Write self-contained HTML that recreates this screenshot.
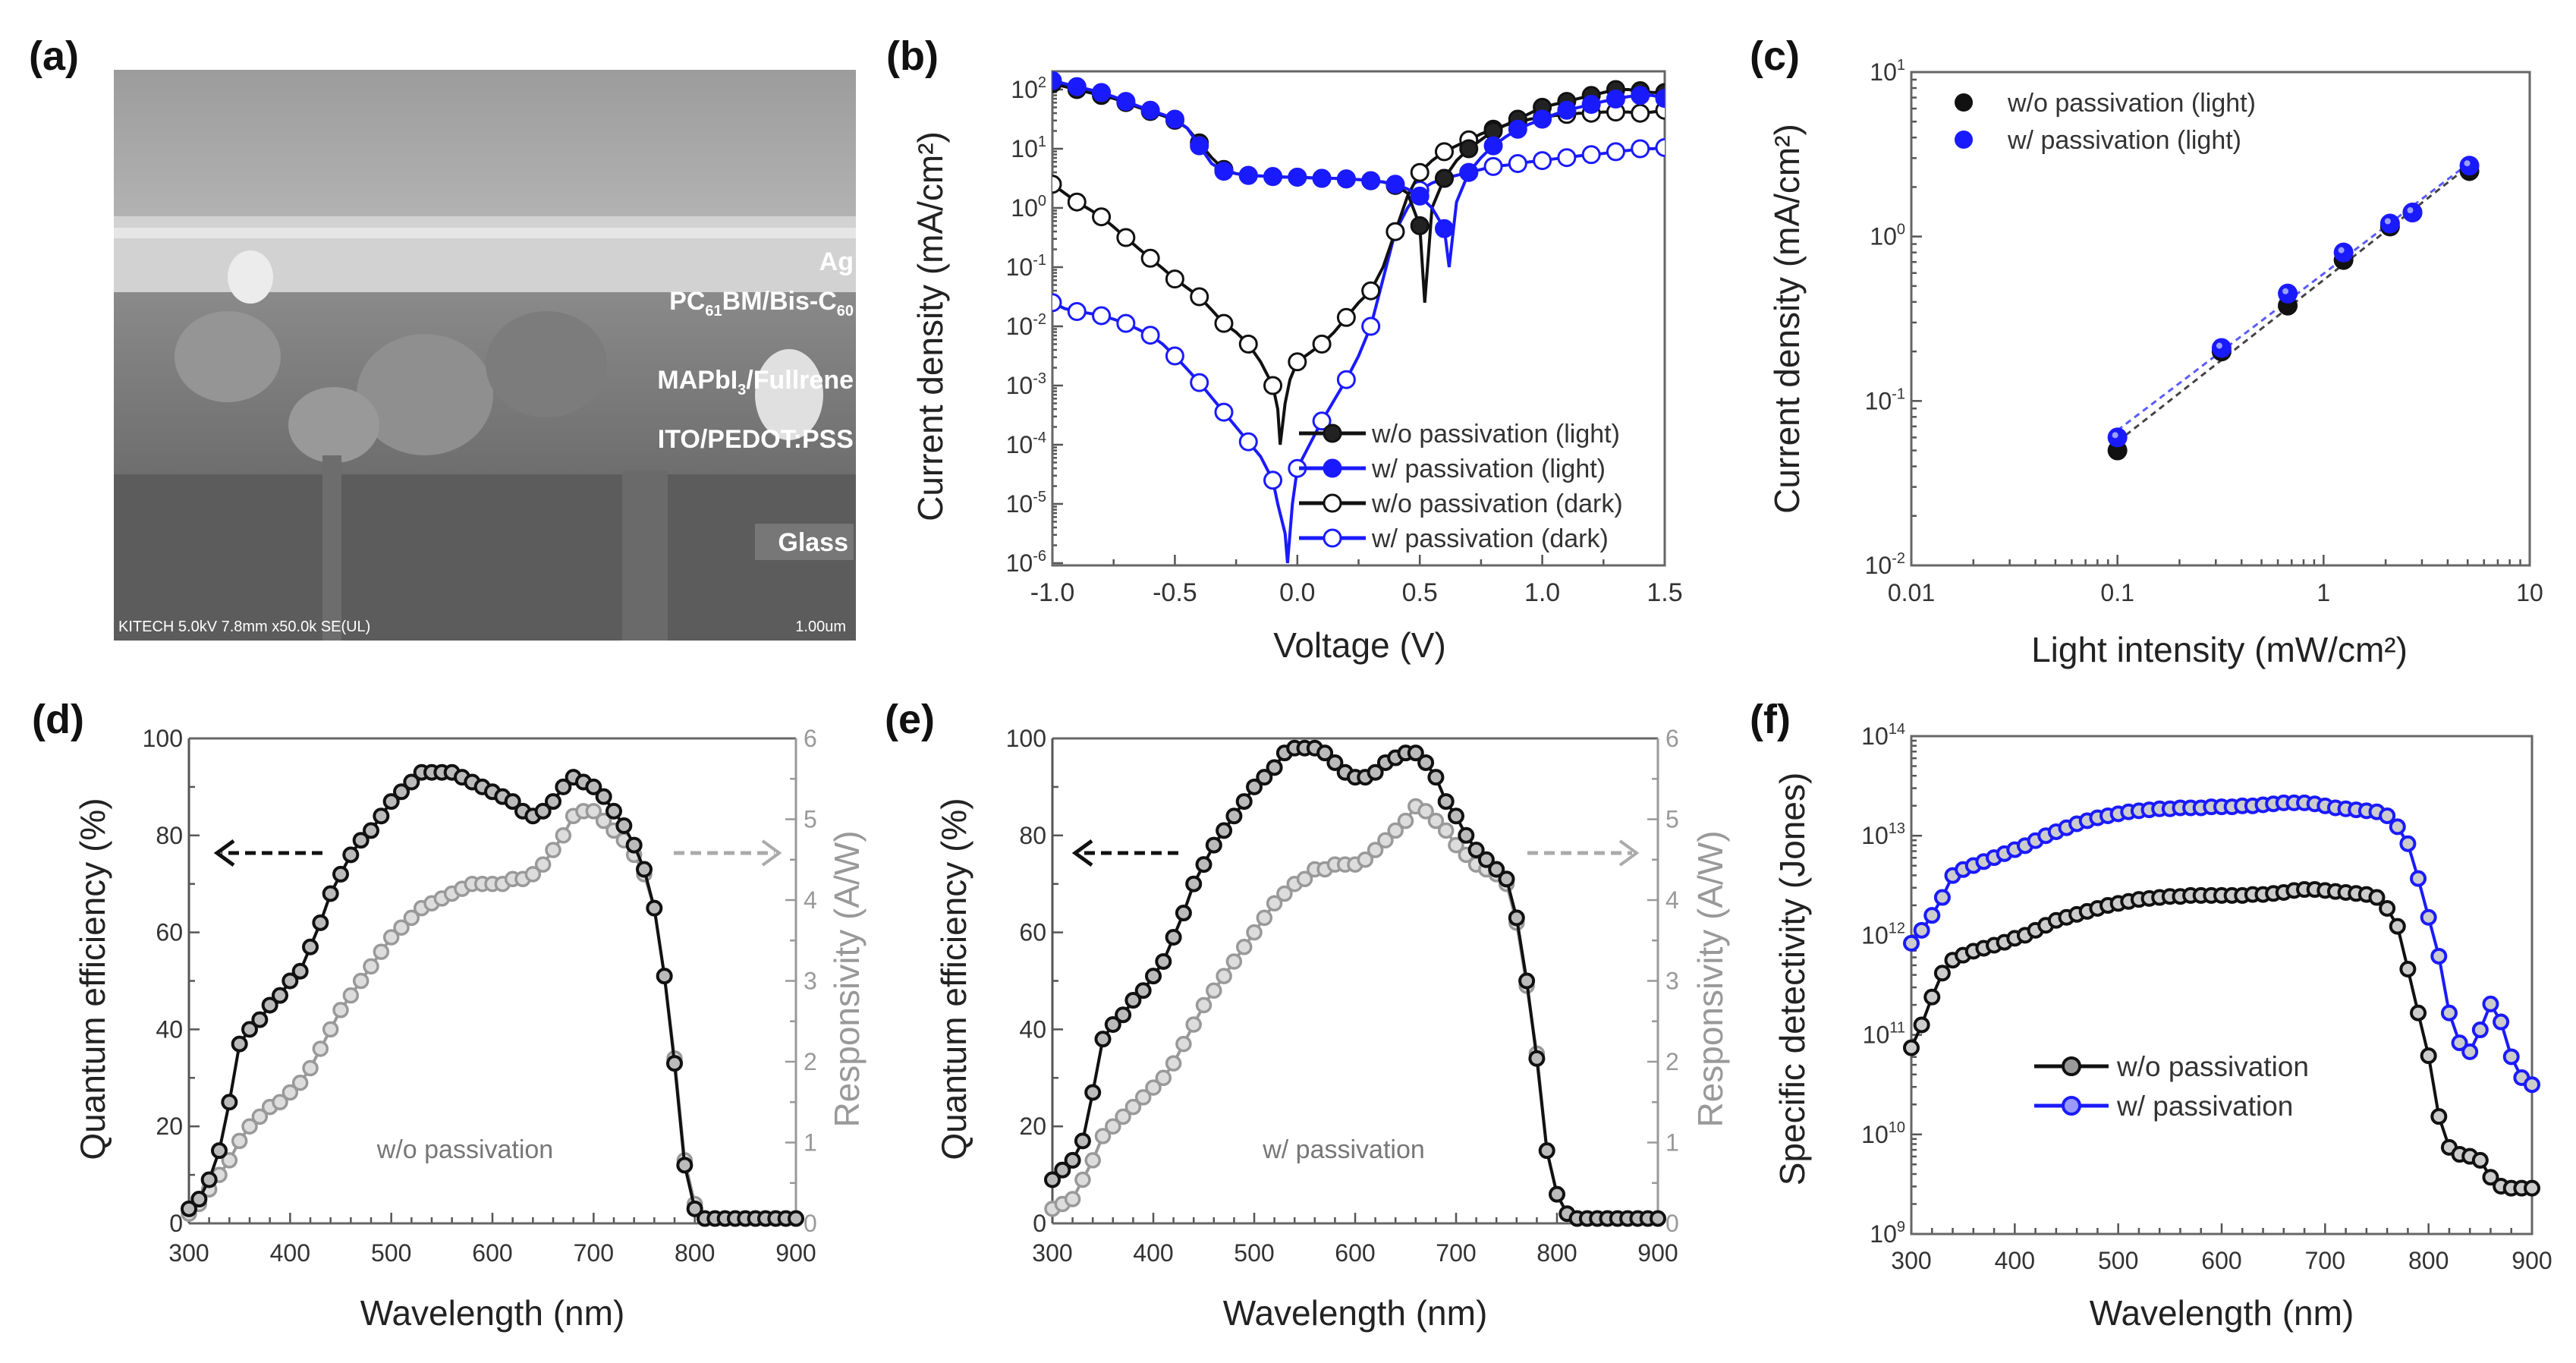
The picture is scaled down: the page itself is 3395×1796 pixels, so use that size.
<!DOCTYPE html>
<html><head><meta charset="utf-8">
<style>
html,body{margin:0;padding:0;background:#fff;}
svg{display:block;font-family:"Liberation Sans",Arial,sans-serif;}
</style></head>
<body>
<svg id="fig" xmlns="http://www.w3.org/2000/svg" width="3395" height="1796" viewBox="0 0 3395 1796">
<defs>
<linearGradient id="gTop" x1="0" y1="0" x2="0" y2="1"><stop offset="0" stop-color="#9c9c9c"/><stop offset="1" stop-color="#b4b4b4"/></linearGradient>
<linearGradient id="gGrain" x1="0" y1="0" x2="0" y2="1"><stop offset="0" stop-color="#8a8a8a"/><stop offset="1" stop-color="#6e6e6e"/></linearGradient>
<clipPath id="semClip"><rect x="150" y="92" width="978" height="752"/></clipPath>
</defs>
<g id="panelA">
 <g clip-path="url(#semClip)">
  <rect x="150" y="92" width="978" height="752" fill="#5c5c5c"/>
  <rect x="150" y="92" width="978" height="210" fill="url(#gTop)"/>
  <rect x="150" y="285" width="978" height="110" fill="#d2d2d2"/>
  <rect x="150" y="300" width="978" height="14" fill="#eeeeee" opacity="0.7"/>
  <rect x="150" y="385" width="978" height="240" fill="url(#gGrain)"/>
  <ellipse cx="330" cy="365" rx="30" ry="35" fill="#ececec"/>
  <ellipse cx="300" cy="470" rx="70" ry="60" fill="#959595"/>
  <ellipse cx="560" cy="520" rx="90" ry="80" fill="#8f8f8f"/>
  <ellipse cx="720" cy="480" rx="80" ry="70" fill="#7c7c7c"/>
  <ellipse cx="440" cy="560" rx="60" ry="50" fill="#999"/>
  <ellipse cx="1040" cy="520" rx="45" ry="60" fill="#e0e0e0"/>
  <rect x="820" y="620" width="60" height="224" fill="#6a6a6a"/>
  <rect x="425" y="600" width="25" height="244" fill="#6d6d6d"/>
  <text x="1125" y="356" text-anchor="end" font-size="34" font-weight="bold" fill="#fff">Ag</text>
  <text x="1125" y="408" text-anchor="end" font-size="34" font-weight="bold" fill="#fff">PC<tspan font-size="20" dy="8">61</tspan><tspan dy="-8">BM/Bis-C</tspan><tspan font-size="20" dy="8">60</tspan></text>
  <text x="1125" y="512" text-anchor="end" font-size="34" font-weight="bold" fill="#fff">MAPbI<tspan font-size="20" dy="8">3</tspan><tspan dy="-8">/Fullrene</tspan></text>
  <text x="1125" y="590" text-anchor="end" font-size="34" font-weight="bold" fill="#fff">ITO/PEDOT:PSS</text>
  <rect x="995" y="690" width="130" height="48" fill="#777"/>
  <text x="1118" y="726" text-anchor="end" font-size="34" font-weight="bold" fill="#fff">Glass</text>
  <text x="156" y="832" font-size="20" fill="#fff">KITECH 5.0kV 7.8mm x50.0k SE(UL)</text>
  <text x="1115" y="832" text-anchor="end" font-size="20" fill="#fff">1.00um</text>
 </g>
</g>
</svg>
<script>
const NS='http://www.w3.org/2000/svg';
const svg=document.getElementById('fig');

// ---------- Panel (b) data: voltage (V) and log10 current density (mA/cm2)
const bBlackLightV=[-1,-0.95,-0.9,-0.85,-0.8,-0.75,-0.7,-0.65,-0.6,-0.55,-0.5,-0.45,-0.4,-0.35,-0.3,-0.25,-0.2,-0.15,-0.1,-0.05,0,0.05,0.1,0.15,0.2,0.25,0.3,0.35,0.4,0.45,0.5,0.52,0.55,0.6,0.65,0.7,0.75,0.8,0.85,0.9,0.95,1.0,1.05,1.1,1.15,1.2,1.25,1.3,1.35,1.4,1.45,1.5];
const bBlackLightJ=[2.1,2.05,2.0,1.95,1.9,1.85,1.78,1.7,1.63,1.56,1.48,1.35,1.1,0.85,0.65,0.58,0.55,0.54,0.53,0.52,0.52,0.51,0.5,0.5,0.49,0.48,0.46,0.44,0.38,0.25,-0.3,-1.6,0.0,0.5,0.8,1.0,1.15,1.3,1.4,1.5,1.6,1.7,1.75,1.8,1.85,1.9,1.95,2.0,2.0,1.98,1.95,1.95];
const bBlueLightV=[-1,-0.95,-0.9,-0.85,-0.8,-0.75,-0.7,-0.65,-0.6,-0.55,-0.5,-0.45,-0.4,-0.35,-0.3,-0.25,-0.2,-0.15,-0.1,-0.05,0,0.05,0.1,0.15,0.2,0.25,0.3,0.35,0.4,0.45,0.5,0.55,0.6,0.62,0.65,0.7,0.75,0.8,0.85,0.9,0.95,1.0,1.05,1.1,1.15,1.2,1.25,1.3,1.35,1.4,1.45,1.5];
const bBlueLightJ=[2.15,2.1,2.05,2.0,1.95,1.88,1.8,1.72,1.65,1.58,1.5,1.35,1.05,0.75,0.62,0.58,0.55,0.54,0.53,0.52,0.52,0.51,0.5,0.5,0.49,0.48,0.46,0.44,0.4,0.32,0.2,0.0,-0.35,-1.0,0.1,0.6,0.85,1.05,1.2,1.33,1.42,1.5,1.58,1.65,1.7,1.75,1.8,1.84,1.88,1.9,1.9,1.85];
const bBlackDarkV=[-1,-0.95,-0.9,-0.85,-0.8,-0.75,-0.7,-0.65,-0.6,-0.55,-0.5,-0.45,-0.4,-0.35,-0.3,-0.25,-0.2,-0.15,-0.1,-0.08,-0.07,-0.05,-0.03,0,0.05,0.1,0.15,0.2,0.25,0.3,0.35,0.4,0.45,0.5,0.55,0.6,0.65,0.7,0.75,0.8,0.85,0.9,0.95,1.0,1.05,1.1,1.15,1.2,1.25,1.3,1.35,1.4,1.45,1.5];
const bBlackDarkJ=[0.4,0.25,0.1,-0.02,-0.15,-0.32,-0.5,-0.68,-0.85,-1.02,-1.2,-1.35,-1.5,-1.72,-1.95,-2.1,-2.3,-2.6,-3.0,-3.4,-4.0,-3.3,-2.9,-2.6,-2.45,-2.3,-2.1,-1.85,-1.6,-1.4,-1.0,-0.4,0.2,0.6,0.8,0.95,1.05,1.15,1.25,1.33,1.4,1.45,1.5,1.53,1.56,1.58,1.6,1.6,1.62,1.62,1.62,1.6,1.62,1.65];
const bBlueDarkV=[-1,-0.95,-0.9,-0.85,-0.8,-0.75,-0.7,-0.65,-0.6,-0.55,-0.5,-0.45,-0.4,-0.35,-0.3,-0.25,-0.2,-0.15,-0.1,-0.08,-0.05,-0.04,-0.02,0,0.05,0.1,0.15,0.2,0.25,0.3,0.35,0.4,0.45,0.5,0.55,0.6,0.65,0.7,0.75,0.8,0.85,0.9,0.95,1.0,1.05,1.1,1.15,1.2,1.25,1.3,1.35,1.4,1.45,1.5];
const bBlueDarkJ=[-1.6,-1.7,-1.75,-1.78,-1.82,-1.88,-1.95,-2.05,-2.15,-2.3,-2.5,-2.72,-2.95,-3.2,-3.45,-3.7,-3.95,-4.2,-4.6,-5.0,-5.5,-6.0,-5.0,-4.4,-4.0,-3.6,-3.25,-2.9,-2.5,-2.0,-1.2,-0.4,0.0,0.3,0.42,0.5,0.55,0.6,0.65,0.7,0.72,0.75,0.78,0.8,0.83,0.85,0.88,0.9,0.92,0.95,0.97,1.0,1.0,1.02];
const bXTicks=[-1.0,-0.5,0.0,0.5,1.0,1.5];
const bXTickLabels=['-1.0','-0.5','0.0','0.5','1.0','1.5'];
const bYExp=[2,1,0,-1,-2,-3,-4,-5,-6];

// ---------- Panel (c) data
const cIntensity=[0.1,0.32,0.67,1.25,2.1,2.7,5.1];
const cBlack=[0.05,0.2,0.38,0.72,1.15,1.4,2.5];
const cBlue=[0.06,0.21,0.45,0.8,1.2,1.4,2.7];
const cXTickLabels=['0.01','0.1','1','10'];
const cYExp=[1,0,-1,-2];

// ---------- Panels (d),(e)
const wl=[300,310,320,330,340,350,360,370,380,390,400,410,420,430,440,450,460,470,480,490,500,510,520,530,540,550,560,570,580,590,600,610,620,630,640,650,660,670,680,690,700,710,720,730,740,750,760,770,780,790,800,810,820,830,840,850,860,870,880,890,900];
const dQE=[3,5,9,15,25,37,40,42,45,47,50,52,57,62,68,72,76,79,81,84,87,89,91,93,93,93,93,92,91,90,89,88,87,85,84,85,87,90,92,91,90,88,85,82,78,73,65,51,33,12,3,1,1,1,1,1,1,1,1,1,1];
const dResp=[0.12,0.24,0.42,0.6,0.78,1.02,1.2,1.32,1.44,1.5,1.62,1.74,1.92,2.16,2.4,2.64,2.82,3.0,3.18,3.36,3.54,3.66,3.78,3.9,3.96,4.02,4.08,4.14,4.2,4.2,4.2,4.2,4.26,4.26,4.32,4.44,4.62,4.8,5.04,5.1,5.1,4.98,4.86,4.74,4.56,4.32,3.9,3.06,2.04,0.78,0.24,0.06,0.06,0.06,0.06,0.06,0.06,0.06,0.06,0.06,0.06];
const eQE=[9,11,13,17,27,38,41,43,46,48,51,54,59,64,70,74,78,81,84,87,90,92,94,97,98,98,98,97,95,93,92,92,93,95,96,97,97,95,92,87,84,80,77,75,73,71,63,50,34,15,6,2,1,1,1,1,1,1,1,1,1];
const eResp=[0.18,0.24,0.3,0.54,0.78,1.08,1.2,1.32,1.44,1.56,1.68,1.8,1.98,2.22,2.46,2.7,2.88,3.06,3.24,3.42,3.6,3.78,3.96,4.08,4.2,4.26,4.38,4.38,4.44,4.44,4.44,4.5,4.62,4.74,4.86,4.98,5.16,5.1,4.98,4.86,4.68,4.56,4.44,4.38,4.32,4.2,3.72,2.94,2.1,0.9,0.36,0.12,0.06,0.06,0.06,0.06,0.06,0.06,0.06,0.06,0.06];
const wlTicks=[300,400,500,600,700,800,900];
const qeTicks=[0,20,40,60,80,100];
const respTicks=[0,1,2,3,4,5,6];

// ---------- Panel (f)
const fLogBlack=[10.87,11.1,11.38,11.62,11.75,11.8,11.84,11.87,11.9,11.93,11.97,12.0,12.05,12.1,12.15,12.18,12.21,12.24,12.27,12.3,12.32,12.34,12.36,12.37,12.38,12.39,12.39,12.4,12.4,12.4,12.4,12.4,12.4,12.41,12.41,12.42,12.43,12.45,12.46,12.46,12.45,12.44,12.43,12.42,12.41,12.38,12.27,12.09,11.66,11.22,10.79,10.18,9.87,9.8,9.78,9.74,9.57,9.48,9.46,9.46,9.46];
const fLogBlue=[11.92,12.05,12.2,12.38,12.6,12.66,12.7,12.74,12.78,12.82,12.86,12.9,12.95,13.0,13.04,13.08,13.12,13.15,13.18,13.2,13.22,13.24,13.25,13.26,13.27,13.27,13.28,13.28,13.28,13.29,13.29,13.29,13.3,13.3,13.31,13.32,13.33,13.33,13.33,13.32,13.3,13.28,13.27,13.26,13.25,13.24,13.2,13.09,12.92,12.57,12.18,11.79,11.22,10.92,10.83,11.05,11.31,11.13,10.78,10.57,10.5];
const fYExp=[14,13,12,11,10,9];

// ---------- helpers
function mk(tag,attrs,name,parent){
  const e=document.createElementNS(NS,tag);
  for(const k in attrs) e.setAttribute(k,attrs[k]);
  
  
  (parent||svg).appendChild(e);
  return e;
}
function lin(d0,d1,r0,r1){return v=>r0+(v-d0)*(r1-r0)/(d1-d0);}
function txt(x,y,s,size,name,opt){
  opt=opt||{};
  const t=mk('text',{x:x,y:y,'font-size':size,fill:opt.fill||'#222','text-anchor':opt.anchor||'middle','font-weight':opt.weight||'normal'},name,opt.parent);
  if(opt.rot!==undefined) t.setAttribute('transform','rotate('+opt.rot+' '+x+' '+y+')');
  t.textContent=s;
  return t;
}
function powLabel(x,y,exp,name,g,anchor){
  const t=mk('text',{x:x,y:y,'font-size':32,fill:'#333','text-anchor':anchor||'end'},name,g);
  t.appendChild(document.createTextNode('10'));
  const s=document.createElementNS(NS,'tspan');
  s.setAttribute('font-size','20');s.setAttribute('dy','-14');
  s.textContent=String(exp);
  t.appendChild(s);
  return t;
}
function frame(g,x0,y0,x1,y1,name){
  mk('rect',{x:x0,y:y0,width:x1-x0,height:y1-y0,fill:'none',stroke:'#666','stroke-width':3},name,g);
}
function tick(g,x1,y1,x2,y2,name,color){
  mk('line',{x1:x1,y1:y1,x2:x2,y2:y2,stroke:color||'#555','stroke-width':2.5},name,g);
}
function pathOf(xs,ys,fx,fy){
  let d='';
  for(let i=0;i<xs.length;i++){d+=(i?'L':'M')+fx(xs[i]).toFixed(1)+' '+fy(ys[i]).toFixed(1);}
  return d;
}
function panelLabel(x,y,s,name){txt(x,y,s,54,name,{weight:'bold',anchor:'start',fill:'#111'});}

panelLabel(38,92,'(a)','panel-label-a');
panelLabel(1168,92,'(b)','panel-label-b');
panelLabel(2306,92,'(c)','panel-label-c');
panelLabel(42,966,'(d)','panel-label-d');
panelLabel(1166,966,'(e)','panel-label-e');
panelLabel(2306,966,'(f)','panel-label-f');

// ================= Panel (b)
(function(){
  const g=mk('g',{},'iv-chart');
  const X0=1387,X1=2194,Y0=94,Y1=745;
  const xb=lin(-1,1.5,X0,X1);
  const yb=v=>742-(v+6)*78;
  const clip=mk('clipPath',{id:'clipB'},'clip-b',g);
  mk('rect',{x:X0,y:Y0,width:X1-X0,height:Y1-Y0},'clip-rect-b',clip);
  for(let i=0;i<bXTicks.length;i++){
    const x=xb(bXTicks[i]);
    tick(g,x,Y1,x,Y1-14,'x-tick-b');
    txt(x,792,bXTickLabels[i],34,'x-tick-label-b',{fill:'#333'});
    if(i<bXTicks.length-1){const xm=xb(bXTicks[i]+0.25);tick(g,xm,Y1,xm,Y1-8,'x-minor-tick-b');}
  }
  for(const e of bYExp){
    const y=yb(e);
    tick(g,X0,y,X0+14,y,'y-tick-b');
    powLabel(X0-8,y+11,e,'y-tick-label-b',g);
    for(let m=2;m<10;m++){const ym=yb(e+Math.log10(m));if(ym>Y0&&ym<Y1)tick(g,X0,ym,X0+6,ym,'y-minor-tick-b');}
  }
  frame(g,X0,Y0,X1,Y1,'plot-frame-b');
  const series=[
    {v:bBlueDarkV,j:bBlueDarkJ,c:'#1a1aff',fill:'#fff',n:'w-passivation-dark'},
    {v:bBlackDarkV,j:bBlackDarkJ,c:'#111',fill:'#fff',n:'wo-passivation-dark'},
    {v:bBlackLightV,j:bBlackLightJ,c:'#111',fill:'#222',n:'wo-passivation-light'},
    {v:bBlueLightV,j:bBlueLightJ,c:'#1a1aff',fill:'#1a1aff',n:'w-passivation-light'}];
  const sg=mk('g',{'clip-path':'url(#clipB)'},'series-group-b',g);
  for(const s of series){
    mk('path',{d:pathOf(s.v,s.j,xb,yb),fill:'none',stroke:s.c,'stroke-width':4},s.n+'-line',sg);
    for(let i=0;i<s.v.length;i++){
      const k=Math.round(s.v[i]*100);
      if(k%10!==0) continue;
      mk('circle',{cx:xb(s.v[i]),cy:yb(s.j[i]),r:11,fill:s.fill,stroke:s.c,'stroke-width':3},s.n+'-marker',sg);
    }
  }
  const leg=[['w/o passivation (light)','#111','#222'],['w/ passivation (light)','#1a1aff','#1a1aff'],['w/o passivation (dark)','#111','#fff'],['w/ passivation (dark)','#1a1aff','#fff']];
  const lg=mk('g',{},'legend-b',g);
  leg.forEach((l,i)=>{
    const y=571+i*46;
    mk('line',{x1:1712,y1:y,x2:1800,y2:y,stroke:l[1],'stroke-width':5},'legend-line-b',lg);
    mk('circle',{cx:1756,cy:y,r:11,fill:l[2],stroke:l[1],'stroke-width':3},'legend-marker-b',lg);
    txt(1808,y+12,l[0],34,'legend-entry-b',{anchor:'start',fill:'#333',parent:lg});
  });
  txt(1242,430,'Current density (mA/cm²)',46,'y-axis-title-b',{rot:-90,fill:'#222'});
  txt(1792,866,'Voltage (V)',46,'x-axis-title-b',{fill:'#222'});
})();

// ================= Panel (c)
(function(){
  const g=mk('g',{},'intensity-chart');
  const X0=2519,X1=3334,Y0=95,Y1=745;
  const xc=v=>X0+(Math.log10(v)+2)*(X1-X0)/3;
  const yc=v=>Y1-(Math.log10(v)+2)*(Y1-Y0)/3;
  for(let d=0;d<4;d++){
    const v=Math.pow(10,d-2);
    const x=xc(v);
    tick(g,x,Y1,x,Y1-14,'x-tick-c');
    txt(x,792,cXTickLabels[d],32,'x-tick-label-c',{fill:'#333'});
    if(d<3)for(let m=2;m<10;m++){const xm=xc(v*m);tick(g,xm,Y1,xm,Y1-8,'x-minor-tick-c');}
  }
  for(const e of cYExp){
    const y=yc(Math.pow(10,e));
    tick(g,X0,y,X0+14,y,'y-tick-c');
    powLabel(X0-8,y+11,e,'y-tick-label-c',g);
    if(e>-2)for(let m=2;m<10;m++){const ym=yc(Math.pow(10,e-1)*m);tick(g,X0,ym,X0+7,ym,'y-minor-tick-c');}
  }
  frame(g,X0,Y0,X1,Y1,'plot-frame-c');
  function fit(ys,color,name){
    let sx=0,sy=0,sxx=0,sxy=0,n=cIntensity.length;
    for(let i=0;i<n;i++){const a=Math.log10(cIntensity[i]),b=Math.log10(ys[i]);sx+=a;sy+=b;sxx+=a*a;sxy+=a*b;}
    const k=(n*sxy-sx*sy)/(n*sxx-sx*sx),b0=(sy-k*sx)/n;
    const xa=cIntensity[0],xz=cIntensity[n-1];
    mk('line',{x1:xc(xa),y1:yc(Math.pow(10,b0+k*Math.log10(xa))),x2:xc(xz),y2:yc(Math.pow(10,b0+k*Math.log10(xz))),stroke:color,'stroke-width':3,'stroke-dasharray':'8 6'},name,g);
  }
  fit(cBlack,'#444','fit-line-wo-passivation');
  fit(cBlue,'#5a5aff','fit-line-w-passivation');
  for(let i=0;i<cIntensity.length;i++){
    mk('circle',{cx:xc(cIntensity[i]),cy:yc(cBlack[i]),r:13,fill:'#111'},'point-wo-passivation',g);
  }
  for(let i=0;i<cIntensity.length;i++){
    mk('circle',{cx:xc(cIntensity[i]),cy:yc(cBlue[i]),r:13,fill:'#1a1aff'},'point-w-passivation',g);
    mk('circle',{cx:xc(cIntensity[i])-3,cy:yc(cBlue[i])-3,r:4,fill:'#9aa0ff'},'point-highlight',g);
  }
  mk('circle',{cx:2588,cy:135,r:12,fill:'#111'},'legend-marker-c-wo',g);
  txt(2646,147,'w/o passivation (light)',34,'legend-entry-c-wo',{anchor:'start',fill:'#333'});
  mk('circle',{cx:2588,cy:184,r:12,fill:'#1a1aff'},'legend-marker-c-w',g);
  txt(2646,196,'w/ passivation (light)',34,'legend-entry-c-w',{anchor:'start',fill:'#333'});
  txt(2371,420,'Current density (mA/cm²)',46,'y-axis-title-c',{rot:-90,fill:'#222'});
  txt(2925,872,'Light intensity (mW/cm²)',46,'x-axis-title-c',{fill:'#222'});
})();

// ================= Panels (d),(e)
function qePanel(X0,X1,qe,resp,note,noteX,arrows,id,titleX,rTitleX){
  const g=mk('g',{},'qe-chart-'+id);
  const Y0=973,Y1=1612;
  const x=lin(300,900,X0,X1), y=lin(0,100,Y1,Y0), yr=lin(0,6,Y1,Y0);
  for(const t of wlTicks){
    tick(g,x(t),Y1,x(t),Y1-14,'x-tick-'+id);
    txt(x(t),1662,String(t),32,'x-tick-label-'+id,{fill:'#333'});
  }
  for(let t=320;t<900;t+=20){if(t%100) tick(g,x(t),Y1,x(t),Y1-8,'x-minor-tick-'+id);}
  for(const t of qeTicks){
    tick(g,X0,y(t),X0+14,y(t),'y-tick-'+id);
    txt(X0-8,y(t)+11,String(t),32,'y-tick-label-'+id,{anchor:'end',fill:'#333'});
    if(t<100) tick(g,X0,y(t+10),X0+8,y(t+10),'y-minor-tick-'+id);
  }
  for(const t of respTicks){
    tick(g,X1,yr(t),X1-14,yr(t),'y2-tick-'+id,'#999');
    txt(X1+10,yr(t)+11,String(t),32,'y2-tick-label-'+id,{anchor:'start',fill:'#999'});
    if(t<6) tick(g,X1,yr(t+0.5),X1-8,yr(t+0.5),'y2-minor-tick-'+id,'#999');
  }
  mk('line',{x1:X0,y1:Y0,x2:X1,y2:Y0,stroke:'#666','stroke-width':3},'frame-top-'+id,g);
  mk('line',{x1:X0,y1:Y1,x2:X1,y2:Y1,stroke:'#666','stroke-width':3},'frame-bottom-'+id,g);
  mk('line',{x1:X0,y1:Y0,x2:X0,y2:Y1,stroke:'#555','stroke-width':3},'frame-left-'+id,g);
  mk('line',{x1:X1,y1:Y0,x2:X1,y2:Y1,stroke:'#999','stroke-width':3},'frame-right-'+id,g);
  mk('path',{d:pathOf(wl,resp,x,yr),fill:'none',stroke:'#999','stroke-width':4},'responsivity-line-'+id,g);
  for(let i=0;i<wl.length;i++) mk('circle',{cx:x(wl[i]),cy:yr(resp[i]),r:9,fill:'#ddd',stroke:'#999','stroke-width':3.5},'responsivity-marker-'+id,g);
  mk('path',{d:pathOf(wl,qe,x,y),fill:'none',stroke:'#111','stroke-width':4},'qe-line-'+id,g);
  for(let i=0;i<wl.length;i++) mk('circle',{cx:x(wl[i]),cy:y(qe[i]),r:9,fill:'#bbb',stroke:'#111','stroke-width':4},'qe-marker-'+id,g);
  mk('line',{x1:arrows[0],y1:1124,x2:arrows[1]+6,y2:1124,stroke:'#111','stroke-width':5,'stroke-dasharray':'14 8'},'left-axis-arrow-'+id,g);
  mk('path',{d:'M'+(arrows[1]+22)+' 1108 L'+arrows[1]+' 1124 L'+(arrows[1]+22)+' 1140',fill:'none',stroke:'#111','stroke-width':5},'left-arrow-head-'+id,g);
  mk('line',{x1:arrows[2],y1:1124,x2:arrows[3]-6,y2:1124,stroke:'#aaa','stroke-width':5,'stroke-dasharray':'14 8'},'right-axis-arrow-'+id,g);
  mk('path',{d:'M'+(arrows[3]-22)+' 1108 L'+arrows[3]+' 1124 L'+(arrows[3]-22)+' 1140',fill:'none',stroke:'#aaa','stroke-width':4},'right-arrow-head-'+id,g);
  txt(noteX,1526,note,34,'annotation-'+id,{fill:'#777'});
  txt(titleX,1290,'Quantum efficiency (%)',46,'y-axis-title-'+id,{rot:-90,fill:'#222'});
  txt(rTitleX,1290,'Responsivity (A/W)',46,'y2-axis-title-'+id,{rot:-90,fill:'#999'});
  txt((X0+X1)/2,1746,'Wavelength (nm)',46,'x-axis-title-'+id,{fill:'#222'});
}
qePanel(249,1049,dQE,dResp,'w/o passivation',613,[425,286,888,1027],'d',138,1132);
qePanel(1387,2185,eQE,eResp,'w/ passivation',1771,[1553,1417,2013,2157],'e',1273,2270);

// ================= Panel (f)
(function(){
  const g=mk('g',{},'detectivity-chart');
  const X0=2519,X1=3337,Y0=970,Y1=1626;
  const x=lin(300,900,X0,X1), y=lin(9,14,Y1,Y0);
  for(const t of wlTicks){
    tick(g,x(t),Y1,x(t),Y1-14,'x-tick-f');
    txt(x(t),1672,String(t),32,'x-tick-label-f',{fill:'#333'});
  }
  for(let t=320;t<900;t+=20){if(t%100) tick(g,x(t),Y1,x(t),Y1-8,'x-minor-tick-f');}
  for(const e of fYExp){
    tick(g,X0,y(e),X0+14,y(e),'y-tick-f');
    powLabel(X0-8,y(e)+11,e,'y-tick-label-f',g);
    if(e>9)for(let m=2;m<10;m++) tick(g,X0,y(e-1+Math.log10(m)),X0+7,y(e-1+Math.log10(m)),'y-minor-tick-f');
  }
  frame(g,X0,Y0,X1,Y1,'plot-frame-f');
  const ss=[[fLogBlack,'#111','wo-passivation'],[fLogBlue,'#1a1aff','w-passivation']];
  for(const s of ss){
    mk('path',{d:pathOf(wl,s[0],x,y),fill:'none',stroke:s[1],'stroke-width':4},s[2]+'-detectivity-line',g);
    for(let i=0;i<wl.length;i++) mk('circle',{cx:x(wl[i]),cy:y(s[0][i]),r:9,fill:'#ccc',stroke:s[1],'stroke-width':4},s[2]+'-detectivity-marker',g);
  }
  mk('line',{x1:2681,y1:1405,x2:2779,y2:1405,stroke:'#111','stroke-width':5},'legend-line-f-wo',g);
  mk('circle',{cx:2730,cy:1405,r:11,fill:'#999',stroke:'#111','stroke-width':4},'legend-marker-f-wo',g);
  txt(2790,1418,'w/o passivation',37,'legend-entry-f-wo',{anchor:'start',fill:'#333'});
  mk('line',{x1:2681,y1:1457,x2:2779,y2:1457,stroke:'#1a1aff','stroke-width':5},'legend-line-f-w',g);
  mk('circle',{cx:2730,cy:1457,r:11,fill:'#99f',stroke:'#1a1aff','stroke-width':4},'legend-marker-f-w',g);
  txt(2790,1470,'w/ passivation',37,'legend-entry-f-w',{anchor:'start',fill:'#333'});
  txt(2378,1290,'Specific detectivity (Jones)',46,'y-axis-title-f',{rot:-90,fill:'#222'});
  txt(2928,1746,'Wavelength (nm)',46,'x-axis-title-f',{fill:'#222'});
})();
</script>
</body></html>
